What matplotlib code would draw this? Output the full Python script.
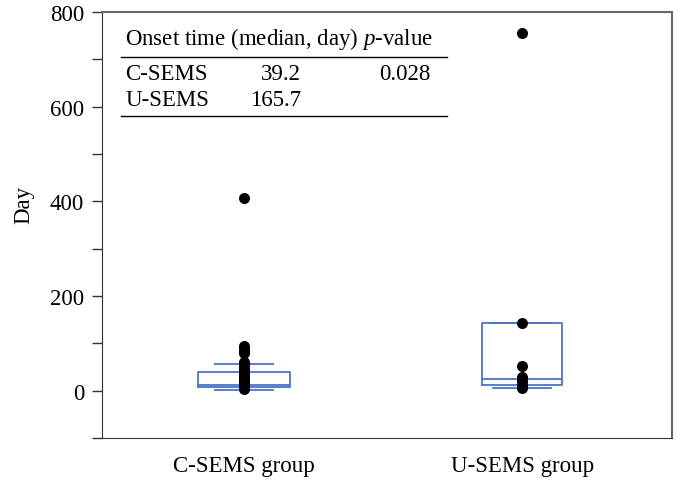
import numpy as np
import matplotlib.pyplot as plt
from matplotlib.ticker import MultipleLocator

plt.rcParams['font.family'] = ['Liberation Serif', 'DejaVu Serif']
plt.rcParams['mathtext.fontset'] = 'custom'
plt.rcParams['mathtext.rm'] = 'Liberation Serif'
plt.rcParams['mathtext.it'] = 'Liberation Serif:italic'

# ---- data ----
groups = ["C-SEMS group", "U-SEMS group"]
q1 = [8, 13]
median = [12, 25]
q3 = [40, 143]
whisker_lo = [2, 6]
whisker_hi = [57, 143]
box_widths = [0.33, 0.29]

c_points = [408, 95, 90, 85, 80, 60, 55, 50, 45, 40, 35, 30, 28, 25,
            22, 20, 18, 15, 12, 10, 8, 5, 3]
u_points = [755, 143, 52, 30, 20, 13, 6]

table_rows = ["C-SEMS", "U-SEMS"]
onset_median = ["39.2", "165.7"]
p_value = "0.028"

blue = "#4a74c4"
fs = 16.5

fig = plt.figure(figsize=(6.77, 4.81), dpi=100)
ax = fig.add_axes([0.151, 0.087, 0.842, 0.886])

stats = []
for i in range(len(groups)):
    stats.append(dict(med=median[i], q1=q1[i], q3=q3[i],
                      whislo=whisker_lo[i], whishi=whisker_hi[i],
                      fliers=[], label=groups[i]))

positions = [1, 2]
for i, st in enumerate(stats):
    ax.bxp([st], positions=[positions[i]], widths=box_widths[i],
           showfliers=False, manage_ticks=False,
           boxprops=dict(color=blue, linewidth=1.3),
           medianprops=dict(color=blue, linewidth=1.3),
           whiskerprops=dict(color=blue, linewidth=1.3),
           capprops=dict(color=blue, linewidth=1.3),
           capwidths=0.21)

ax.scatter(np.full(len(c_points), 1.0), c_points, s=48, color='black', zorder=3)
ax.scatter(np.full(len(u_points), 2.0), u_points, s=48, color='black', zorder=3)

ax.set_xlim(0.49, 2.54)
ax.set_ylim(-100, 800)
ax.set_xticks(positions)
ax.set_xticklabels(groups, fontsize=fs)
ax.tick_params(axis='x', length=0, pad=12)
ax.yaxis.set_major_locator(MultipleLocator(200))
ax.yaxis.set_minor_locator(MultipleLocator(100))
ax.tick_params(axis='y', which='both', length=7, width=1, direction='out',
               labelsize=fs, color='#333333', pad=6)
ax.set_ylabel("Day", fontsize=fs)
ax.yaxis.set_label_coords(-0.119, 0.55)

for side in ['top', 'right']:
    ax.spines[side].set_color('#666666')
    ax.spines[side].set_linewidth(1.5)
ax.spines['left'].set_color('#333333')
ax.spines['bottom'].set_color('#333333')

# ---- inset table ----
tr = ax.transAxes
def ax_xy(px, py):
    # convert figure pixel position to axes fraction
    return ((px - 102) / 570.0, (439 - py) / 426.0)

x0, y0 = ax_xy(121, 57.5)
x1, _ = ax_xy(447, 57.5)
_, y1 = ax_xy(121, 117)
ax.plot([x0, x1], [y0, y0], transform=tr, color='black', lw=1)
ax.plot([x0, x1], [y1, y1], transform=tr, color='black', lw=1)

hx, hy = ax_xy(125, 39)
ax.text(hx, hy, "Onset time (median, day) $\\it{p}$-value", transform=tr,
        fontsize=fs, va='center', ha='left')
for j, name in enumerate(table_rows):
    ry = 74 + j * 26
    nx, ny = ax_xy(125, ry)
    ax.text(nx, ny, name, transform=tr, fontsize=fs, va='center', ha='left')
    vx, _ = ax_xy(301, ry)
    ax.text(vx, ny, onset_median[j], transform=tr, fontsize=fs, va='center', ha='right')
px_, py_ = ax_xy(405, 74)
ax.text(px_, py_, p_value, transform=tr, fontsize=fs, va='center', ha='center')

fig.savefig("out.png", dpi=100)
